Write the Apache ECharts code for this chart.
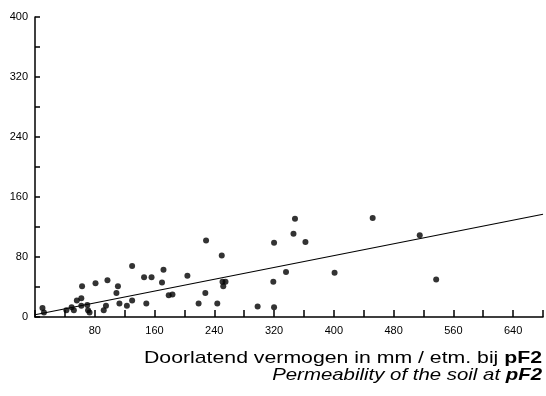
<!DOCTYPE html>
<html>
<head>
<meta charset="utf-8">
<script src="https://cdn.jsdelivr.net/npm/echarts@6/dist/echarts.min.js"></script>
<style>
  html, body { margin: 0; padding: 0; background: #fff; }
  #main { width: 546px; height: 396px; }
</style>
</head>
<body>
<div id="main"></div>
<script>
// permeability (mm/etm. at pF2) vs. y value
var permeability = [10, 12, 42, 49, 52, 56, 62, 62, 63, 70, 71, 73, 81, 92, 95, 97, 109, 111, 113, 123,
  130, 130, 146, 149, 156, 170, 172, 179, 184, 204, 219, 228, 229, 244, 250, 251, 255, 252, 298, 319,
  320, 320, 336, 346, 348, 362, 401, 452, 515, 537];
var measured = [12, 6, 9, 13, 9, 22, 25, 15, 41, 16, 9, 6, 45, 9, 15, 49, 32, 41, 18, 15,
  68, 22, 53, 18, 53, 46, 63, 29, 30, 55, 18, 32, 102, 18, 82, 47, 47, 41, 14, 47,
  99, 13, 60, 111, 131, 100, 59, 132, 109, 50];
// regression line end points (x, y)
var lineX = [0, 680];
var lineY = [3, 137];

var xTicks = [80, 160, 240, 320, 400, 480, 560, 640];
var yTicks = [0, 80, 160, 240, 320, 400];

var points = permeability.map(function (x, i) { return [x, measured[i]]; });
var fit = lineX.map(function (x, i) { return [x, lineY[i]]; });

var myChart = echarts.init(document.getElementById('main'));
var font = 'Liberation Sans, Arial, sans-serif';
var option = {
  animation: false,
  grid: { left: 35, top: 17, right: 1, bottom: 79, containLabel: false },
  xAxis: {
    type: 'value',
    min: 0,
    max: 680,
    interval: 80,
    splitLine: { show: false },
    axisLine: { lineStyle: { color: '#000', width: 1.5 } },
    axisTick: { inside: true, length: 7, lineStyle: { color: '#000', width: 1.5 } },
    minorTick: { show: true, splitNumber: 2, length: 7, lineStyle: { color: '#000', width: 1.5 } },
    axisLabel: {
      color: '#000', fontSize: 11, fontFamily: font, margin: 8,
      formatter: function (v) { return xTicks.indexOf(v) >= 0 ? String(v) : ''; }
    }
  },
  yAxis: {
    type: 'value',
    min: 0,
    max: 400,
    interval: 80,
    splitLine: { show: false },
    axisLine: { lineStyle: { color: '#000', width: 1.5 } },
    axisTick: { inside: true, length: 5, lineStyle: { color: '#000', width: 1.5 } },
    minorTick: { show: true, splitNumber: 2, length: 5, lineStyle: { color: '#000', width: 1.5 } },
    axisLabel: {
      color: '#000', fontSize: 11, fontFamily: font, margin: 7,
      formatter: function (v) { return yTicks.indexOf(v) >= 0 ? String(v) : ''; }
    }
  },
  graphic: [
    {
      // the scanned caption is wide, so stretch it a little
      type: 'text', x: 542, y: 358, scaleX: 1.25,
      style: {
        text: '{n|Doorlatend vermogen in mm / etm. bij }{b|pF2}',
        fill: '#000', align: 'right', verticalAlign: 'middle',
        rich: {
          n: { fontSize: 17, fontFamily: font, fill: '#000' },
          b: { fontSize: 17, fontFamily: font, fontWeight: 'bold', fill: '#000' }
        }
      }
    },
    {
      type: 'text', x: 542, y: 375, scaleX: 1.2,
      style: {
        text: '{i|Permeability of the soil at }{b|pF2}',
        fill: '#000', align: 'right', verticalAlign: 'middle',
        rich: {
          i: { fontSize: 17, fontFamily: font, fontStyle: 'italic', fill: '#000' },
          b: { fontSize: 17, fontFamily: font, fontStyle: 'italic', fontWeight: 'bold', fill: '#000' }
        }
      }
    }
  ],
  series: [
    {
      type: 'scatter',
      data: points,
      symbolSize: 6,
      itemStyle: { color: '#000' }
    },
    {
      type: 'line',
      data: fit,
      symbol: 'none',
      lineStyle: { color: '#000', width: 1.2 }
    }
  ]
};
myChart.setOption(option);
</script>
</body>
</html>
